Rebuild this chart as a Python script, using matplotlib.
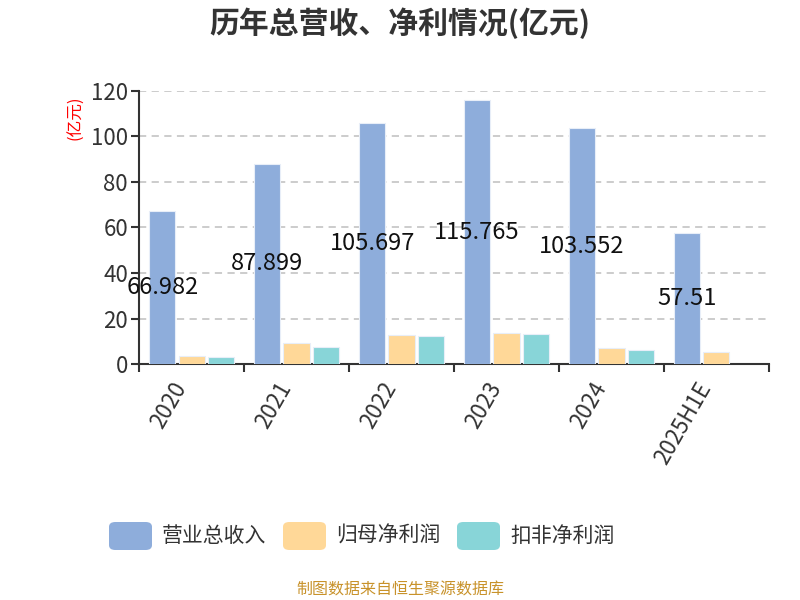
import numpy as np
import matplotlib.pyplot as plt
from matplotlib.patches import FancyBboxPatch

plt.rcParams['font.family'] = ['Noto Sans CJK SC', 'DejaVu Sans']

# data
years = ['2020', '2021', '2022', '2023', '2024', '2025H1E']
series_names = ['营业总收入', '归母净利润', '扣非净利润']
revenue = [66.982, 87.899, 105.697, 115.765, 103.552, 57.51]
net_profit = [3.8, 9.3, 12.6, 13.7, 6.9, 5.2]
net_profit_deducted = [3.2, 7.6, 12.3, 13.3, 6.1, np.nan]
colors = ['#8eaddb', '#ffd898', '#88d5d8']

fig = plt.figure(figsize=(8, 6), dpi=100)
ax = fig.add_axes([0.174, 0.393, 0.787, 0.456])

x = np.arange(len(years))
w = 0.25
step = 0.28
all_series = [revenue, net_profit, net_profit_deducted]
for i, (vals, c) in enumerate(zip(all_series, colors)):
    ax.bar(x + (i - 1) * step, vals, width=w, color=c,
           edgecolor='#e8eef8', linewidth=0.8, zorder=3)

# value labels in the middle of the revenue bars
for xi, v in zip(x, revenue):
    ax.text(xi - step, v / 2, f'{v:g}', ha='center', va='center',
            fontsize=17, color='#111111', zorder=4)

ax.set_xlim(-0.5, len(years) - 0.5)
ax.set_ylim(0, 120)
ax.set_yticks(np.arange(0, 121, 20))
ax.yaxis.grid(True, linestyle=(0, (4, 3)), color='#c8c8c8', linewidth=1.3, zorder=0)

# labels sit slightly left of the category centre, like the original
ax.set_xticks(x - 0.1)
ax.set_xticklabels(years, rotation=60, ha='right', va='center',
                   rotation_mode='anchor', fontsize=16, color='#333333')
ax.set_xticks(np.arange(-0.5, len(years)), minor=True)
ax.tick_params(axis='x', which='major', length=0, pad=14)
ax.tick_params(axis='x', which='minor', length=6, width=1.5, color='#333333')
ax.tick_params(axis='y', length=6, width=1.5, color='#333333',
               labelsize=16, labelcolor='#333333', pad=2)

for s in ['top', 'right']:
    ax.spines[s].set_visible(False)
for s in ['left', 'bottom']:
    ax.spines[s].set_color('#333333')
    ax.spines[s].set_linewidth(1.5)

fig.text(0.5, 0.962, '历年总营收、净利情况(亿元)', ha='center', va='center',
         fontsize=21.5, fontweight='bold', color='#333333')
fig.text(0.095, 0.803, '(亿元)', rotation=90, ha='center', va='center',
         fontsize=12, color='red')

# legend with rounded swatches
legend_x = [109, 283, 457]
for lx, name, c in zip(legend_x, series_names, colors):
    box = FancyBboxPatch((lx / 800, 1 - 550 / 600), 43 / 800, 28 / 600,
                         boxstyle='round,pad=0,rounding_size=0.008',
                         transform=fig.transFigure, facecolor=c,
                         edgecolor='none')
    fig.patches.append(box)
    fig.text((lx + 53) / 800, 1 - 536 / 600, name, ha='left', va='center',
             fontsize=15, color='#333333')

fig.text(0.5, 1 - 590 / 600, '制图数据来自恒生聚源数据库', ha='center',
         va='center', fontsize=11.5, color='#c8922a')

fig.savefig('out.png', dpi=100)
